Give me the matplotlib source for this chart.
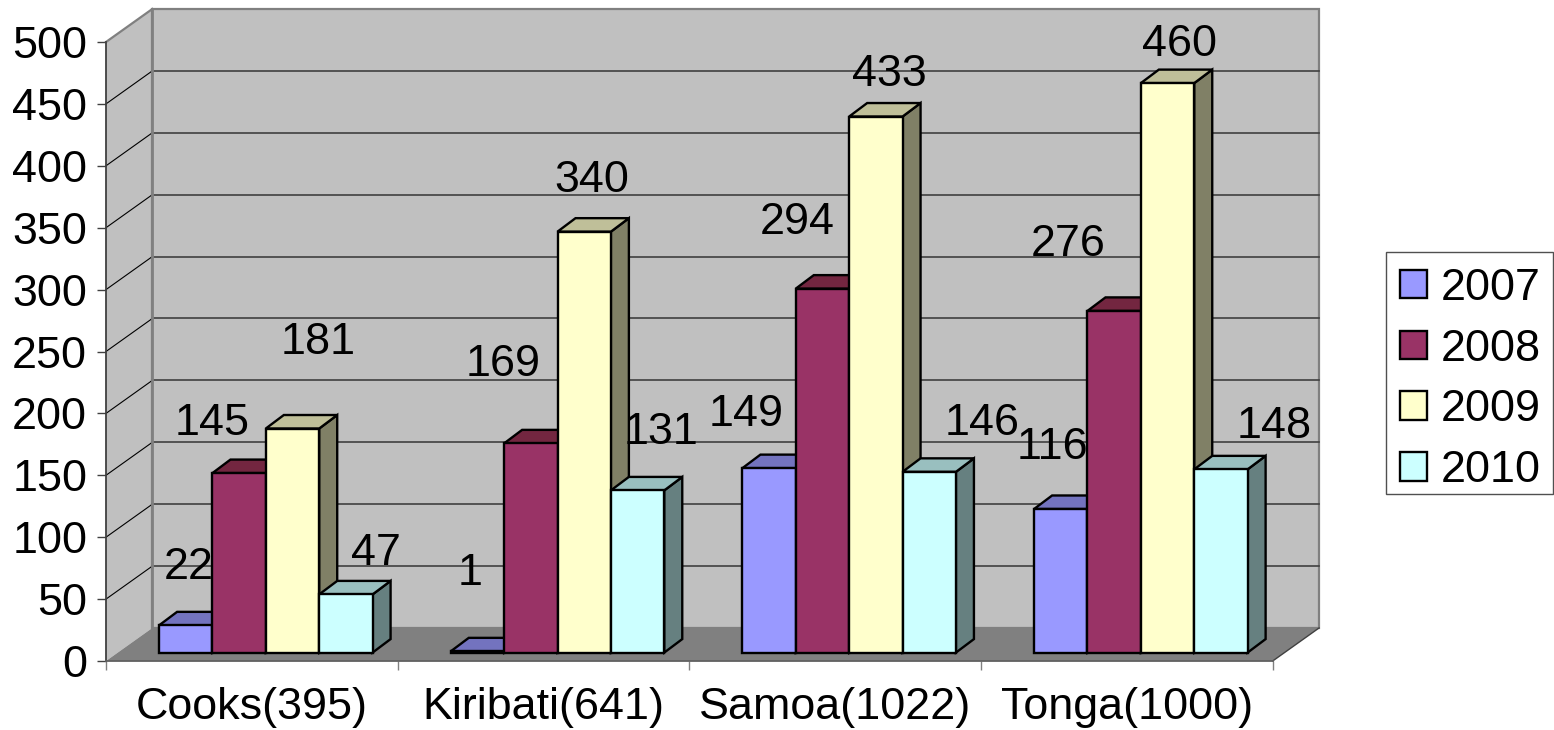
import matplotlib
matplotlib.use('Agg')
import matplotlib.pyplot as plt
from matplotlib.patches import Patch, Polygon, Rectangle

plt.rcParams['font.family'] = ['Liberation Sans', 'DejaVu Sans']

# data
countries = ['Cooks(395)', 'Kiribati(641)', 'Samoa(1022)', 'Tonga(1000)']
years = ['2007', '2008', '2009', '2010']
v2007 = [22, 1, 149, 116]
v2008 = [145, 169, 294, 276]
v2009 = [181, 340, 433, 460]
v2010 = [47, 131, 146, 148]
series = [v2007, v2008, v2009, v2010]
y_ticks = [0, 50, 100, 150, 200, 250, 300, 350, 400, 450, 500]

# the labels do not sit over their bars in the original, offset in pixels from bar top
label_dx = [[3, -7, -23, -8], [-27, -28, -25, -46], [26, 8, 13, 12], [30, 23, 53, 53]]
label_dy = [[58, 78, 54, 61], [50, 79, 66, 66], [86, 51, 42, 39], [41, 58, 48, 43]]

colors = ['#9999FF', '#993366', '#FFFFCC', '#CCFFFF']
top_colors = ['#7373BF', '#732640', '#BFBF99', '#99BFBF']
side_colors = ['#4D4D80', '#4D1A33', '#808066', '#668080']

# fake 3d, everything in data units of the front plane
wall_dx = 0.159
wall_dy = 26.7
bar_dx = 0.0617
bar_dy = 10.9
bar_w = 0.183
group_start = 0.182
bar_base = 6.8
FS = 32.3
EDGE = 1.7

fig = plt.figure(figsize=(15.54, 7.3), dpi=100)
ax = fig.add_axes([106 / 1554, 1 - 661 / 730, 1166.7 / 1554, 619 / 730])
ax.set_xlim(0, 4)
ax.set_ylim(0, 500)
ax.patch.set_visible(False)


def face(points, color, edge, lw, z):
    ax.add_patch(Polygon(points, closed=True, facecolor=color, edgecolor=edge,
                         linewidth=lw, zorder=z, clip_on=False, joinstyle='miter'))


# walls and floor
face([(0, 0), (wall_dx, wall_dy), (wall_dx, 500 + wall_dy), (0, 500)], '#C0C0C0', 'none', 0, 1)
face([(wall_dx, wall_dy), (4 + wall_dx, wall_dy), (4 + wall_dx, 500 + wall_dy), (wall_dx, 500 + wall_dy)],
     '#C0C0C0', '#808080', 1.6, 1)
face([(0, 0), (4, 0), (4 + wall_dx, wall_dy), (wall_dx, wall_dy)], '#808080', 'none', 0, 1.5)

# grid
for t in y_ticks[1:-1]:
    ax.plot([0, wall_dx], [t, t + wall_dy], color='black', lw=0.8, zorder=2, clip_on=False)
    ax.plot([wall_dx, 4 + wall_dx], [t + wall_dy, t + wall_dy], color='#404040', lw=1.2, zorder=2, clip_on=False)
ax.plot([0, wall_dx], [500, 500 + wall_dy], color='#808080', lw=1.6, zorder=2, clip_on=False)
ax.plot([wall_dx, wall_dx], [wall_dy, 500 + wall_dy], color='#808080', lw=2, zorder=2, clip_on=False)
ax.plot([4, 4 + wall_dx], [0, wall_dy], color='#404040', lw=1, zorder=2, clip_on=False)

# bars, left to right so the later one covers the earlier
z = 3
for g in range(len(countries)):
    for s in range(len(years)):
        val = series[s][g]
        x0 = g + group_start + s * bar_w
        x1 = x0 + bar_w
        y0 = bar_base
        y1 = bar_base + val
        face([(x1, y0), (x1 + bar_dx, y0 + bar_dy), (x1 + bar_dx, y1 + bar_dy), (x1, y1)],
             side_colors[s], 'black', EDGE, z)
        face([(x0, y1), (x1, y1), (x1 + bar_dx, y1 + bar_dy), (x0 + bar_dx, y1 + bar_dy)],
             top_colors[s], 'black', EDGE, z)
        ax.bar(x0, val, bar_w, bottom=bar_base, align='edge', color=colors[s],
               edgecolor='black', linewidth=EDGE, zorder=z + 0.1, clip_on=False)
        z += 0.2

# value labels
for s in range(len(years)):
    for g in range(len(countries)):
        val = series[s][g]
        ax.annotate(str(val), xy=(g + group_start + (s + 0.5) * bar_w, bar_base + val),
                    xytext=(label_dx[s][g], label_dy[s][g]), textcoords='offset pixels',
                    ha='center', va='center', fontsize=FS, color='black', zorder=20,
                    annotation_clip=False)

# axes
for side in ['top', 'right']:
    ax.spines[side].set_visible(False)
ax.spines['left'].set_color('#404040')
ax.spines['left'].set_linewidth(1.3)
ax.spines['bottom'].set_color('#606060')
ax.spines['bottom'].set_linewidth(1.3)
ax.spines['left'].set_zorder(2.5)
ax.spines['bottom'].set_zorder(2.5)
ax.set_yticks(y_ticks)
ax.tick_params(axis='y', labelsize=FS, length=6.5, width=1, color='#404040', pad=7)
ax.set_xticks([0, 1, 2, 3, 4])
ax.set_xticklabels([])
ax.set_xticks([0.5, 1.5, 2.5, 3.5], minor=True)
ax.set_xticklabels(countries, minor=True, fontsize=FS)
ax.tick_params(axis='x', which='major', length=6.5, width=1, color='#808080')
ax.tick_params(axis='x', which='minor', length=0, pad=19)

# legend, box drawn by hand because the automatic frame comes out too tall
fig.add_artist(Rectangle((1386 / 1554, 1 - 494 / 730), 167 / 1554, 241.5 / 730, transform=fig.transFigure,
                         facecolor='white', edgecolor='#505050', linewidth=1))
handles = [Patch(facecolor=colors[i], edgecolor='black', linewidth=EDGE, label=years[i]) for i in range(4)]
leg = fig.legend(handles=handles, loc='upper left', bbox_to_anchor=(1386 / 1554, 1 - 253.5 / 730),
                 fontsize=FS, frameon=False, borderaxespad=0, borderpad=0.32,
                 handlelength=0.6, handleheight=0.6, handletextpad=0.3, labelspacing=0.44)
leg.set_zorder(5)

fig.savefig('out.png', dpi=100)
